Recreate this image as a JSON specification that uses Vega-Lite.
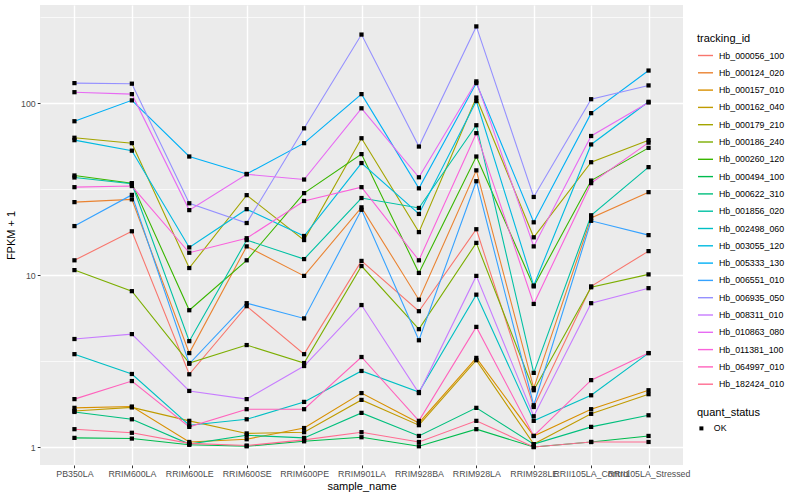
{
  "$schema": "https://vega.github.io/schema/vega-lite/v6.json",
  "width": 643,
  "height": 460,
  "autosize": {"type": "none"},
  "padding": {"left": 40, "top": 5, "right": 117, "bottom": 35},
  "background": "white",
  "config": {
    "font": "Liberation Sans",
    "view": {"fill": "#EBEBEB", "stroke": null},
    "axis": {"domain": false, "gridColor": "white", "tickColor": "#333333", "tickSize": 2.75, "labelColor": "#4D4D4D", "labelFontSize": 8.8, "titleFontSize": 11, "titleFontWeight": "normal", "titleColor": "black", "labelPadding": 2},
    "legend": {"titleFontSize": 11, "titleFontWeight": "normal", "titleColor": "black", "labelFontSize": 8.8, "labelColor": "black"}
  },
  "datasets": {
    "series": [
      {"id": "Hb_000056_100", "PB350LA": 12.2, "RRIM600LA": 18.0, "RRIM600LE": 2.65, "RRIM600SE": 6.6, "RRIM600PE": 3.47, "RRIM901LA": 12.1, "RRIM928BA": 6.17, "RRIM928LA": 18.5, "RRIM928LE": 1.71, "RRII105LA_Control": 8.6, "RRII105LA_Stressed": 13.8},
      {"id": "Hb_000124_020", "PB350LA": 26.6, "RRIM600LA": 27.6, "RRIM600LE": 3.52, "RRIM600SE": 14.7, "RRIM600PE": 9.9, "RRIM901LA": 24.8, "RRIM928BA": 7.2, "RRIM928LA": 40.7, "RRIM928LE": 2.2, "RRII105LA_Control": 21.5, "RRII105LA_Stressed": 30.4},
      {"id": "Hb_000157_010", "PB350LA": 1.69, "RRIM600LA": 1.72, "RRIM600LE": 1.07, "RRIM600SE": 1.11, "RRIM600PE": 1.29, "RRIM901LA": 2.06, "RRIM928BA": 1.38, "RRIM928LA": 3.3, "RRIM928LE": 1.16, "RRII105LA_Control": 1.66, "RRII105LA_Stressed": 2.14},
      {"id": "Hb_000162_040", "PB350LA": 1.62, "RRIM600LA": 1.70, "RRIM600LE": 1.42, "RRIM600SE": 1.2, "RRIM600PE": 1.22, "RRIM901LA": 1.88, "RRIM928BA": 1.34, "RRIM928LA": 3.2, "RRIM928LE": 1.04, "RRII105LA_Control": 1.56, "RRII105LA_Stressed": 2.03},
      {"id": "Hb_000179_210", "PB350LA": 63, "RRIM600LA": 58.6, "RRIM600LE": 11.0, "RRIM600SE": 29.2, "RRIM600PE": 16.0, "RRIM901LA": 62.6, "RRIM928BA": 17.8, "RRIM928LA": 108, "RRIM928LE": 16.6, "RRII105LA_Control": 45.4, "RRII105LA_Stressed": 61},
      {"id": "Hb_000186_240", "PB350LA": 10.7, "RRIM600LA": 8.07, "RRIM600LE": 3.08, "RRIM600SE": 3.92, "RRIM600PE": 3.08, "RRIM901LA": 11.3, "RRIM928BA": 4.85, "RRIM928LA": 15.4, "RRIM928LE": 2.14, "RRII105LA_Control": 8.5, "RRII105LA_Stressed": 10.1},
      {"id": "Hb_000260_120", "PB350LA": 38, "RRIM600LA": 34.3, "RRIM600LE": 6.25, "RRIM600SE": 12.2, "RRIM600PE": 30, "RRIM901LA": 50.6, "RRIM928BA": 10.3, "RRIM928LA": 49, "RRIM928LE": 8.6, "RRII105LA_Control": 35.5, "RRII105LA_Stressed": 55},
      {"id": "Hb_000494_100", "PB350LA": 1.13, "RRIM600LA": 1.12, "RRIM600LE": 1.03, "RRIM600SE": 1.01, "RRIM600PE": 1.08, "RRIM901LA": 1.14, "RRIM928BA": 1.01, "RRIM928LA": 1.27, "RRIM928LE": 1.0, "RRII105LA_Control": 1.07, "RRII105LA_Stressed": 1.16},
      {"id": "Hb_000622_310", "PB350LA": 1.60, "RRIM600LA": 1.45, "RRIM600LE": 1.04, "RRIM600SE": 1.17, "RRIM600PE": 1.13, "RRIM901LA": 1.58, "RRIM928BA": 1.16, "RRIM928LA": 1.69, "RRIM928LE": 1.04, "RRII105LA_Control": 1.31, "RRII105LA_Stressed": 1.53},
      {"id": "Hb_001856_020", "PB350LA": 37, "RRIM600LA": 34, "RRIM600LE": 4.13, "RRIM600SE": 16.0, "RRIM600PE": 12.4, "RRIM901LA": 28.1, "RRIM928BA": 24.6, "RRIM928LA": 74.5, "RRIM928LE": 2.7, "RRII105LA_Control": 22.3, "RRII105LA_Stressed": 42.5},
      {"id": "Hb_002498_060", "PB350LA": 3.47, "RRIM600LA": 2.66, "RRIM600LE": 1.34, "RRIM600SE": 1.45, "RRIM600PE": 1.83, "RRIM901LA": 2.77, "RRIM928BA": 2.09, "RRIM928LA": 7.7, "RRIM928LE": 1.42, "RRII105LA_Control": 2.0, "RRII105LA_Stressed": 3.52},
      {"id": "Hb_003055_120", "PB350LA": 61, "RRIM600LA": 53, "RRIM600LE": 14.5, "RRIM600SE": 24.2, "RRIM600PE": 16.9, "RRIM901LA": 44.9, "RRIM928BA": 22.7, "RRIM928LA": 103, "RRIM928LE": 8.7, "RRII105LA_Control": 57.6, "RRII105LA_Stressed": 102},
      {"id": "Hb_005333_130", "PB350LA": 78.6, "RRIM600LA": 104, "RRIM600LE": 49, "RRIM600SE": 38.8, "RRIM600PE": 58.6, "RRIM901LA": 113, "RRIM928BA": 32, "RRIM928LA": 131, "RRIM928LE": 20.3, "RRII105LA_Control": 87.6, "RRII105LA_Stressed": 155},
      {"id": "Hb_006551_010", "PB350LA": 19.3, "RRIM600LA": 29.3, "RRIM600LE": 3.05, "RRIM600SE": 6.87, "RRIM600PE": 5.6, "RRIM901LA": 24.0, "RRIM928BA": 4.18, "RRIM928LA": 35.2, "RRIM928LE": 1.75, "RRII105LA_Control": 20.7, "RRII105LA_Stressed": 17.1},
      {"id": "Hb_006935_050", "PB350LA": 131, "RRIM600LA": 130, "RRIM600LE": 26.2, "RRIM600SE": 20.1, "RRIM600PE": 71.5, "RRIM901LA": 251, "RRIM928BA": 56, "RRIM928LA": 280, "RRIM928LE": 28.5, "RRII105LA_Control": 105.6, "RRII105LA_Stressed": 127},
      {"id": "Hb_008311_010", "PB350LA": 4.25, "RRIM600LA": 4.54, "RRIM600LE": 2.12, "RRIM600SE": 1.90, "RRIM600PE": 2.96, "RRIM901LA": 6.7, "RRIM928BA": 2.06, "RRIM928LA": 9.9, "RRIM928LE": 1.51, "RRII105LA_Control": 6.87, "RRII105LA_Stressed": 8.4},
      {"id": "Hb_010863_080", "PB350LA": 116, "RRIM600LA": 113, "RRIM600LE": 23.9, "RRIM600SE": 38.6, "RRIM600PE": 36, "RRIM901LA": 93.5, "RRIM928BA": 37.1, "RRIM928LA": 134, "RRIM928LE": 14.7, "RRII105LA_Control": 64.5, "RRII105LA_Stressed": 101},
      {"id": "Hb_011381_100", "PB350LA": 32.5, "RRIM600LA": 33, "RRIM600LE": 13.5, "RRIM600SE": 16.4, "RRIM600PE": 27, "RRIM901LA": 32.5, "RRIM928BA": 12.2, "RRIM928LA": 67, "RRIM928LE": 6.8, "RRII105LA_Control": 34.3, "RRII105LA_Stressed": 59},
      {"id": "Hb_064997_010", "PB350LA": 1.90, "RRIM600LA": 2.42, "RRIM600LE": 1.31, "RRIM600SE": 1.66, "RRIM600PE": 1.66, "RRIM901LA": 3.34, "RRIM928BA": 1.42, "RRIM928LA": 5.0, "RRIM928LE": 1.16, "RRII105LA_Control": 2.45, "RRII105LA_Stressed": 3.52},
      {"id": "Hb_182424_010", "PB350LA": 1.27, "RRIM600LA": 1.21, "RRIM600LE": 1.05, "RRIM600SE": 1.02, "RRIM600PE": 1.1, "RRIM901LA": 1.22, "RRIM928BA": 1.07, "RRIM928LA": 1.42, "RRIM928LE": 1.0, "RRII105LA_Control": 1.07, "RRII105LA_Stressed": 1.07}
    ]
  },
  "data": {"name": "series"},
  "transform": [
    {"fold": ["PB350LA", "RRIM600LA", "RRIM600LE", "RRIM600SE", "RRIM600PE", "RRIM901LA", "RRIM928BA", "RRIM928LA", "RRIM928LE", "RRII105LA_Control", "RRII105LA_Stressed"], "as": ["sample_name", "fpkm"]},
    {"calculate": "'OK'", "as": "quant_status"}
  ],
  "encoding": {
    "x": {
      "field": "sample_name", "type": "nominal",
      "scale": {"type": "point", "padding": 0.6, "domain": ["PB350LA", "RRIM600LA", "RRIM600LE", "RRIM600SE", "RRIM600PE", "RRIM901LA", "RRIM928BA", "RRIM928LA", "RRIM928LE", "RRII105LA_Control", "RRII105LA_Stressed"]},
      "axis": {"labelAngle": 0, "labelOverlap": false, "labelLimit": 0, "title": "sample_name", "titlePadding": 2, "gridWidth": 1.42, "grid": true}
    },
    "y": {
      "field": "fpkm", "type": "quantitative",
      "scale": {"type": "log", "domain": [0.786, 373], "nice": false, "zero": false},
      "axis": {
        "title": "FPKM + 1",
        "values": [1, 3.1623, 10, 31.623, 100, 316.23],
        "labelExpr": "datum.value == 1 ? '1' : datum.value == 10 ? '10' : datum.value == 100 ? '100' : ''",
        "gridWidth": {"condition": {"test": "datum.value == 1 || datum.value == 10 || datum.value == 100", "value": 1.42}, "value": 0.71},
        "tickOpacity": {"condition": {"test": "datum.value == 1 || datum.value == 10 || datum.value == 100", "value": 1}, "value": 0},
        "titlePadding": 4
      }
    }
  },
  "layer": [
    {
      "mark": {"type": "line", "strokeWidth": 1.1},
      "encoding": {
        "color": {
          "field": "id", "type": "nominal", "title": "tracking_id",
          "scale": {"range": ["#F8766D", "#EA8331", "#D89000", "#C09B00", "#A3A500", "#7CAE00", "#39B600", "#00BB4E", "#00BF7D", "#00C1A3", "#00BFC4", "#00BAE0", "#00B0F6", "#35A2FF", "#9590FF", "#C77CFF", "#E76BF3", "#FA62DB", "#FF62BC", "#FF6C91"]},
          "legend": {"orient": "none", "legendX": 657, "legendY": 28, "symbolType": "stroke", "symbolSize": 225, "symbolStrokeWidth": 1.4, "rowPadding": 3.3, "labelOffset": 5, "titlePadding": 3}
        }
      }
    },
    {
      "mark": {"type": "point", "filled": true, "color": "black", "opacity": 1, "size": 18},
      "encoding": {
        "shape": {
          "field": "quant_status", "type": "nominal", "title": "quant_status",
          "scale": {"range": ["square"]},
          "legend": {"orient": "none", "legendX": 657, "legendY": 402, "symbolFillColor": "black", "symbolStrokeColor": "black", "symbolSize": 16, "labelOffset": 8, "titlePadding": 6}
        }
      }
    }
  ]
}
